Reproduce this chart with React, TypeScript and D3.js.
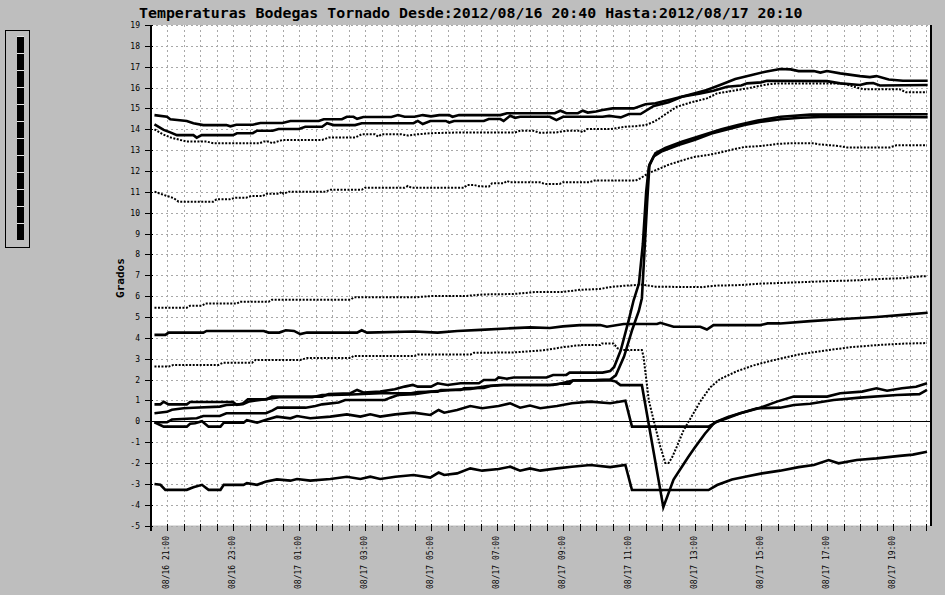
import React from "react";
import * as d3 from "d3";

const TITLE = "Temperaturas Bodegas Tornado Desde:2012/08/16 20:40 Hasta:2012/08/17 20:10";
const Y_LABEL = "Grados";
const yTickValues = [-5, -4, -3, -2, -1, 0, 1, 2, 3, 4, 5, 6, 7, 8, 9, 10, 11, 12, 13, 14, 15, 16, 17, 18, 19];

// time in hours since 2012-08-16 00:00, value in degrees
const sA: [number, number][] = [[20.62, 14.68], [21.0, 14.6], [21.1, 14.48], [21.6, 14.4], [21.8, 14.29], [22.1, 14.2], [22.8, 14.2], [22.92, 14.14], [23.1, 14.22], [23.6, 14.22], [23.83, 14.3], [24.5, 14.3], [24.74, 14.4], [25.6, 14.4], [25.75, 14.48], [26.3, 14.48], [26.45, 14.6], [26.65, 14.6], [26.76, 14.5], [26.95, 14.59], [27.8, 14.59], [28.0, 14.68], [28.2, 14.6], [28.5, 14.6], [28.75, 14.68], [29.0, 14.62], [29.25, 14.68], [29.55, 14.68], [29.65, 14.6], [29.85, 14.68], [31.1, 14.68], [31.3, 14.77], [32.75, 14.77], [32.92, 14.89], [33.1, 14.77], [33.45, 14.77], [33.6, 14.89], [33.75, 14.8], [34.0, 14.85], [34.2, 14.92], [34.5, 15.0], [35.14, 15.0], [35.5, 15.2], [35.8, 15.25], [36.3, 15.44], [36.8, 15.64], [37.36, 15.88], [37.76, 16.12], [38.22, 16.41], [38.72, 16.6], [39.13, 16.76], [39.58, 16.89], [39.9, 16.87], [40.14, 16.79], [40.6, 16.79], [40.8, 16.72], [41.0, 16.79], [41.4, 16.68], [42.0, 16.55], [42.3, 16.5], [42.5, 16.55], [42.87, 16.39], [43.3, 16.33], [44.05, 16.33]];
const sB: [number, number][] = [[20.62, 14.24], [20.9, 13.97], [21.1, 13.85], [21.3, 13.72], [21.8, 13.72], [21.9, 13.6], [22.05, 13.72], [23.0, 13.72], [23.12, 13.81], [23.6, 13.81], [23.73, 13.93], [24.2, 13.93], [24.38, 14.01], [25.0, 14.01], [25.19, 14.12], [25.7, 14.12], [25.85, 14.29], [26.05, 14.2], [26.7, 14.2], [26.9, 14.29], [28.47, 14.29], [28.6, 14.4], [28.75, 14.25], [28.98, 14.4], [29.45, 14.4], [29.55, 14.32], [29.7, 14.4], [30.6, 14.4], [30.75, 14.49], [31.1, 14.49], [31.2, 14.4], [31.4, 14.65], [31.55, 14.55], [31.7, 14.6], [32.6, 14.6], [32.8, 14.44], [33.0, 14.6], [34.2, 14.6], [34.4, 14.64], [34.6, 14.6], [34.75, 14.57], [35.0, 14.73], [35.35, 14.73], [35.75, 15.12], [36.2, 15.3], [36.6, 15.56], [37.16, 15.72], [37.56, 15.85], [37.97, 16.04], [38.4, 16.1], [38.58, 16.2], [39.0, 16.25], [39.18, 16.33], [41.0, 16.31], [41.4, 16.2], [42.0, 16.12], [42.2, 16.2], [42.4, 16.22], [42.6, 16.1], [44.05, 16.12]];
const sC: [number, number][] = [[20.62, 14.0], [20.87, 13.76], [21.12, 13.6], [21.4, 13.49], [21.6, 13.41], [22.2, 13.41], [22.4, 13.33], [23.8, 13.33], [23.93, 13.41], [24.1, 13.41], [24.18, 13.33], [24.5, 13.49], [25.7, 13.49], [25.9, 13.6], [26.7, 13.6], [26.9, 13.76], [27.3, 13.76], [27.4, 13.65], [27.5, 13.76], [28.1, 13.76], [28.3, 13.7], [28.6, 13.76], [28.98, 13.81], [29.89, 13.85], [31.55, 13.85], [31.7, 13.93], [32.1, 13.93], [32.3, 13.83], [32.8, 13.85], [33.1, 13.93], [33.5, 13.93], [33.6, 13.86], [33.73, 14.01], [34.43, 14.01], [34.6, 14.05], [34.89, 14.12], [35.2, 14.15], [35.5, 14.2], [35.75, 14.36], [35.95, 14.55], [36.15, 14.77], [36.45, 15.08], [36.86, 15.28], [37.36, 15.48], [37.67, 15.72], [38.17, 15.85], [38.58, 15.96], [39.18, 16.15], [39.5, 16.2], [41.5, 16.2], [41.9, 16.0], [42.1, 15.92], [43.2, 15.92], [43.4, 15.77], [44.03, 15.77]];
const sD: [number, number][] = [[20.62, 11.01], [20.9, 10.85], [21.2, 10.7], [21.35, 10.53], [22.4, 10.53], [22.5, 10.64], [22.9, 10.64], [23.07, 10.72], [23.4, 10.72], [23.55, 10.8], [23.9, 10.8], [24.03, 10.91], [24.4, 10.91], [24.48, 11.01], [24.53, 10.91], [24.7, 11.01], [25.8, 11.01], [25.95, 11.1], [26.9, 11.1], [27.0, 11.2], [28.2, 11.2], [28.3, 11.28], [28.4, 11.2], [30.0, 11.2], [30.1, 11.33], [30.3, 11.33], [30.45, 11.27], [30.75, 11.25], [30.85, 11.41], [31.2, 11.41], [31.3, 11.52], [31.4, 11.46], [32.3, 11.46], [32.45, 11.38], [32.9, 11.38], [33.0, 11.46], [33.8, 11.46], [33.95, 11.54], [35.2, 11.54], [35.34, 11.65], [35.6, 11.9], [35.95, 12.13], [36.2, 12.3], [36.76, 12.58], [37.0, 12.68], [37.4, 12.77], [37.8, 12.9], [38.17, 13.04], [38.5, 13.15], [39.03, 13.2], [39.5, 13.3], [39.9, 13.33], [40.6, 13.33], [40.75, 13.28], [41.35, 13.2], [41.6, 13.13], [42.9, 13.13], [43.1, 13.23], [44.03, 13.23]];
const sE: [number, number][] = [[20.62, 5.44], [21.6, 5.44], [21.7, 5.54], [22.06, 5.54], [22.16, 5.64], [23.12, 5.64], [23.22, 5.73], [24.08, 5.73], [24.18, 5.83], [26.56, 5.83], [26.66, 5.94], [28.5, 5.94], [29.0, 6.0], [30.0, 6.0], [30.6, 6.08], [31.5, 6.1], [32.2, 6.2], [33.0, 6.2], [33.5, 6.3], [34.1, 6.34], [34.5, 6.45], [34.9, 6.5], [35.4, 6.55], [35.8, 6.45], [37.2, 6.43], [37.6, 6.5], [38.4, 6.53], [39.0, 6.6], [39.6, 6.63], [40.4, 6.68], [41.1, 6.72], [41.8, 6.75], [42.6, 6.82], [43.3, 6.86], [43.7, 6.93], [44.03, 6.96]];
const sF: [number, number][] = [[20.62, 4.14], [20.95, 4.14], [21.05, 4.25], [22.1, 4.25], [22.2, 4.33], [23.93, 4.33], [24.08, 4.25], [24.4, 4.25], [24.6, 4.36], [24.85, 4.33], [25.04, 4.18], [25.24, 4.25], [26.76, 4.25], [26.9, 4.36], [27.06, 4.25], [28.5, 4.3], [29.2, 4.25], [29.8, 4.33], [30.5, 4.38], [31.3, 4.45], [32.0, 4.5], [32.6, 4.47], [33.0, 4.55], [33.52, 4.61], [34.13, 4.61], [34.33, 4.53], [34.84, 4.66], [35.85, 4.66], [35.95, 4.72], [36.35, 4.53], [37.16, 4.53], [37.36, 4.4], [37.56, 4.61], [38.98, 4.61], [39.2, 4.69], [39.58, 4.69], [40.5, 4.8], [41.5, 4.9], [42.5, 5.0], [43.3, 5.1], [44.05, 5.2]];
const sG: [number, number][] = [[20.62, 2.62], [21.05, 2.62], [21.2, 2.7], [22.56, 2.7], [22.7, 2.81], [23.58, 2.81], [23.68, 2.94], [25.04, 2.94], [25.24, 3.03], [26.56, 3.03], [26.66, 3.13], [28.5, 3.13], [28.6, 3.2], [30.2, 3.2], [30.3, 3.28], [31.5, 3.3], [32.4, 3.4], [33.0, 3.55], [33.52, 3.65], [34.13, 3.65], [34.18, 3.73], [34.53, 3.73], [34.65, 3.5], [34.79, 3.41], [35.39, 3.41], [35.44, 3.1], [35.6, 1.0], [35.8, -0.3], [35.95, -1.22], [36.1, -2.0], [36.2, -2.0], [36.3, -1.75], [36.45, -1.22], [36.65, -0.45], [36.85, 0.1], [37.16, 0.95], [37.46, 1.62], [37.77, 2.03], [38.27, 2.4], [38.78, 2.68], [39.18, 2.85], [39.58, 3.0], [40.2, 3.22], [41.0, 3.4], [41.7, 3.55], [42.6, 3.66], [43.3, 3.72], [44.03, 3.75]];
const sP: [number, number][] = [[20.62, 0.81], [20.8, 0.81], [20.9, 0.93], [21.05, 0.81], [21.6, 0.81], [21.7, 0.92], [23.0, 0.92], [23.12, 0.78], [23.3, 0.85], [23.45, 1.05], [24.0, 1.05], [24.18, 1.18], [25.7, 1.18], [25.9, 1.3], [26.56, 1.34], [26.76, 1.5], [26.95, 1.38], [27.46, 1.42], [27.9, 1.53], [28.2, 1.66], [28.45, 1.74], [28.6, 1.66], [29.0, 1.66], [29.2, 1.82], [29.5, 1.74], [29.9, 1.82], [30.45, 1.82], [30.6, 1.98], [30.95, 1.98], [31.05, 2.1], [31.3, 2.04], [31.5, 2.1], [32.5, 2.1], [32.7, 2.22], [33.1, 2.22], [33.2, 2.33], [34.2, 2.33], [34.43, 2.41], [34.55, 2.6], [34.75, 3.4], [35.0, 4.9], [35.14, 5.8], [35.3, 6.6], [35.42, 8.5], [35.52, 11.0], [35.6, 12.2], [35.75, 12.7], [36.0, 12.95], [36.5, 13.25], [37.0, 13.5], [37.5, 13.8], [38.0, 14.0], [38.5, 14.2], [39.0, 14.36], [39.6, 14.48], [40.2, 14.55], [41.0, 14.6], [44.05, 14.58]];
const sQ: [number, number][] = [[20.62, 0.38], [21.0, 0.45], [21.15, 0.55], [21.5, 0.62], [21.8, 0.65], [22.6, 0.7], [22.8, 0.78], [23.3, 0.82], [23.5, 0.95], [23.7, 1.0], [24.1, 1.08], [24.4, 1.15], [25.4, 1.15], [25.7, 1.25], [26.6, 1.28], [27.46, 1.34], [28.4, 1.34], [28.6, 1.4], [29.2, 1.42], [29.3, 1.5], [29.9, 1.5], [30.0, 1.58], [30.6, 1.6], [30.8, 1.69], [31.2, 1.74], [32.7, 1.74], [32.9, 1.8], [33.2, 1.8], [33.3, 1.95], [34.0, 1.97], [34.43, 2.0], [34.6, 2.2], [34.85, 3.1], [35.1, 4.4], [35.3, 5.3], [35.39, 5.9], [35.45, 7.6], [35.55, 10.5], [35.62, 12.3], [35.8, 12.85], [36.1, 13.1], [36.6, 13.4], [37.2, 13.7], [37.8, 14.0], [38.3, 14.2], [38.9, 14.42], [39.6, 14.6], [40.5, 14.7], [44.05, 14.72]];
const sR: [number, number][] = [[20.62, -0.05], [21.0, -0.05], [21.15, 0.08], [21.9, 0.14], [22.1, 0.25], [22.6, 0.25], [22.8, 0.38], [24.0, 0.38], [24.2, 0.52], [24.35, 0.65], [25.2, 0.65], [25.5, 0.73], [25.7, 0.81], [26.2, 0.9], [26.4, 1.02], [27.6, 1.02], [27.77, 1.13], [28.0, 1.26], [28.5, 1.3], [29.0, 1.42], [29.6, 1.5], [30.2, 1.55], [30.7, 1.69], [31.1, 1.74], [32.6, 1.74], [32.9, 1.8], [33.3, 1.95], [34.43, 1.97], [34.6, 1.9], [34.74, 1.73], [35.39, 1.73], [36.04, -4.12], [36.35, -2.8], [36.8, -1.7], [37.0, -1.25], [37.3, -0.6], [37.6, -0.05], [38.0, 0.2], [38.37, 0.38], [38.88, 0.62], [39.58, 0.65], [40.0, 0.78], [40.49, 0.84], [41.2, 1.02], [42.0, 1.13], [43.12, 1.26], [43.8, 1.3], [44.03, 1.5]];
const sS: [number, number][] = [[20.62, -0.05], [20.9, -0.26], [21.6, -0.26], [21.7, -0.12], [21.85, -0.1], [22.06, 0.0], [22.26, -0.26], [22.62, -0.26], [22.72, -0.07], [23.32, -0.07], [23.42, 0.05], [23.73, -0.07], [23.98, 0.06], [24.33, 0.22], [24.74, 0.14], [24.94, 0.25], [25.34, 0.14], [25.95, 0.22], [26.45, 0.33], [26.86, 0.22], [27.16, 0.33], [27.46, 0.22], [27.92, 0.33], [28.47, 0.41], [28.98, 0.3], [29.23, 0.54], [29.4, 0.41], [29.79, 0.54], [30.19, 0.73], [30.55, 0.62], [31.05, 0.73], [31.4, 0.86], [31.7, 0.65], [32.0, 0.75], [32.31, 0.62], [32.82, 0.73], [33.27, 0.86], [33.83, 0.94], [34.43, 0.86], [34.89, 0.98], [35.09, -0.26], [37.41, -0.26], [37.67, -0.02], [37.97, 0.14], [38.37, 0.38], [38.93, 0.62], [39.48, 0.94], [39.99, 1.18], [41.0, 1.18], [41.4, 1.34], [42.06, 1.42], [42.5, 1.58], [42.82, 1.46], [43.27, 1.58], [43.7, 1.65], [44.03, 1.82]];
const sT: [number, number][] = [[20.62, -3.01], [20.8, -3.05], [20.95, -3.29], [21.6, -3.29], [21.8, -3.17], [22.06, -3.05], [22.26, -3.29], [22.62, -3.29], [22.72, -3.05], [23.32, -3.05], [23.42, -2.97], [23.73, -3.05], [23.98, -2.9], [24.33, -2.79], [24.74, -2.85], [24.94, -2.77], [25.34, -2.85], [25.95, -2.77], [26.45, -2.66], [26.86, -2.77], [27.16, -2.66], [27.46, -2.77], [27.92, -2.66], [28.47, -2.58], [28.98, -2.7], [29.23, -2.46], [29.4, -2.58], [29.79, -2.5], [30.19, -2.26], [30.55, -2.37], [31.05, -2.29], [31.4, -2.18], [31.7, -2.37], [32.0, -2.26], [32.31, -2.37], [32.82, -2.26], [33.27, -2.18], [33.83, -2.1], [34.43, -2.2], [34.89, -2.1], [35.09, -3.3], [37.41, -3.3], [37.67, -3.06], [38.12, -2.79], [38.52, -2.66], [39.03, -2.5], [39.58, -2.37], [40.14, -2.2], [40.6, -2.1], [41.05, -1.86], [41.35, -2.02], [41.9, -1.86], [42.5, -1.78], [43.2, -1.66], [43.6, -1.6], [44.03, -1.46]];

const seriesData = [sA, sB, sC, sD, sE, sF, sG, sP, sQ, sR, sS, sT];
const seriesDotted = [false, false, true, true, true, false, true, false, false, false, false, false];

const FONT = "'DejaVu Sans Mono', 'Liberation Mono', monospace";
const base = new Date(2012, 7, 16, 0, 0, 0).getTime();
const toDate = (h: number) => new Date(base + h * 3600000);

export default function App() {
  const left = 150.5, right = 930.5, top = 25, bottom = 525.5;
  const x = d3.scaleTime().domain([toDate(20.5), toDate(44.136)]).range([left, right]);
  const y = d3.scaleLinear().domain([-5, 19]).range([bottom, top]);
  const line = d3.line<[number, number]>().x((d) => x(toDate(d[0]))).y((d) => y(d[1]));
  const ticks = x.ticks(d3.timeMinute.every(30) as any);
  const fmt = d3.timeFormat("%m/%d %H:%M");
  const labelTicks = ticks.filter((t) => t.getMinutes() === 0 && t.getHours() % 2 === 1);

  return (
    <svg width={945} height={595} style={{ position: "absolute", left: 0, top: 0, display: "block" }}>
      <rect x={0} y={0} width={945} height={595} fill="#bebebe" />
      <rect x={left} y={top} width={right - left} height={bottom - top} fill="#ffffff" />
      {/* grid */}
      <g shapeRendering="crispEdges" stroke="#a8a8a8" strokeWidth={1} strokeDasharray="2 3">
        {yTickValues.map((v) => (
          <line key={"gy" + v} x1={left} x2={right} y1={Math.round(y(v)) + 0.5} y2={Math.round(y(v)) + 0.5} />
        ))}
        {ticks.map((t, i) => (
          <line key={"gx" + i} x1={Math.round(x(t)) + 0.5} x2={Math.round(x(t)) + 0.5} y1={top} y2={bottom} />
        ))}
      </g>
      {/* zero line */}
      <line x1={left} x2={right} y1={Math.round(y(0)) + 0.5} y2={Math.round(y(0)) + 0.5} stroke="#000" strokeWidth={1} shapeRendering="crispEdges" />
      {/* series */}
      <g fill="none" stroke="#000" strokeLinejoin="miter">
        {seriesData.map((s, i) => (
          <path
            key={"s" + i}
            d={line(s) || ""}
            strokeWidth={seriesDotted[i] ? 2 : 2.6}
            strokeDasharray={seriesDotted[i] ? "2 1.5" : undefined}
          />
        ))}
      </g>
      {/* axes */}
      <g shapeRendering="crispEdges" stroke="#000">
        <line x1={left + 0.5} x2={left + 0.5} y1={top} y2={bottom + 5} strokeWidth={2} />
        <line x1={right} x2={right} y1={top} y2={bottom} strokeWidth={2} />
        {yTickValues.map((v) => (
          <line key={"ty" + v} x1={145} x2={153} y1={Math.round(y(v)) + 0.5} y2={Math.round(y(v)) + 0.5} strokeWidth={1.5} />
        ))}
        {ticks.map((t, i) => (
          <line key={"tx" + i} x1={Math.round(x(t)) + 0.5} x2={Math.round(x(t)) + 0.5} y1={bottom - 2} y2={bottom + 5} strokeWidth={1.5} />
        ))}
      </g>
      <g fontFamily={FONT} fontSize={8} fill="#000">
        {yTickValues.map((v) => (
          <text key={"ly" + v} x={140} y={y(v) + 3} textAnchor="end">{`${v}`}</text>
        ))}
        {labelTicks.map((t, i) => (
          <text key={"lx" + i} transform={`translate(${x(t) + 2},536) rotate(-90)`} textAnchor="end">{fmt(t)}</text>
        ))}
      </g>
      <text x={139} y={18} fontFamily={FONT} fontSize={14.9} fontWeight="bold" fill="#000">{TITLE}</text>
      <text transform="translate(124,278) rotate(-90)" textAnchor="middle" fontFamily={FONT} fontSize={11} fontWeight="bold" fill="#000">{Y_LABEL}</text>
      {/* legend */}
      <rect x={5.5} y={30.5} width={24} height={217} fill="none" stroke="#000" strokeWidth={1} shapeRendering="crispEdges" />
      <rect x={17} y={36} width={7} height={seriesData.length * 17} fill="#e4e4e4" />
      {seriesData.map((_, i) => (
        <rect key={"lg" + i} x={17} y={37 + i * 17} width={7} height={16} fill="#000" />
      ))}
    </svg>
  );
}
